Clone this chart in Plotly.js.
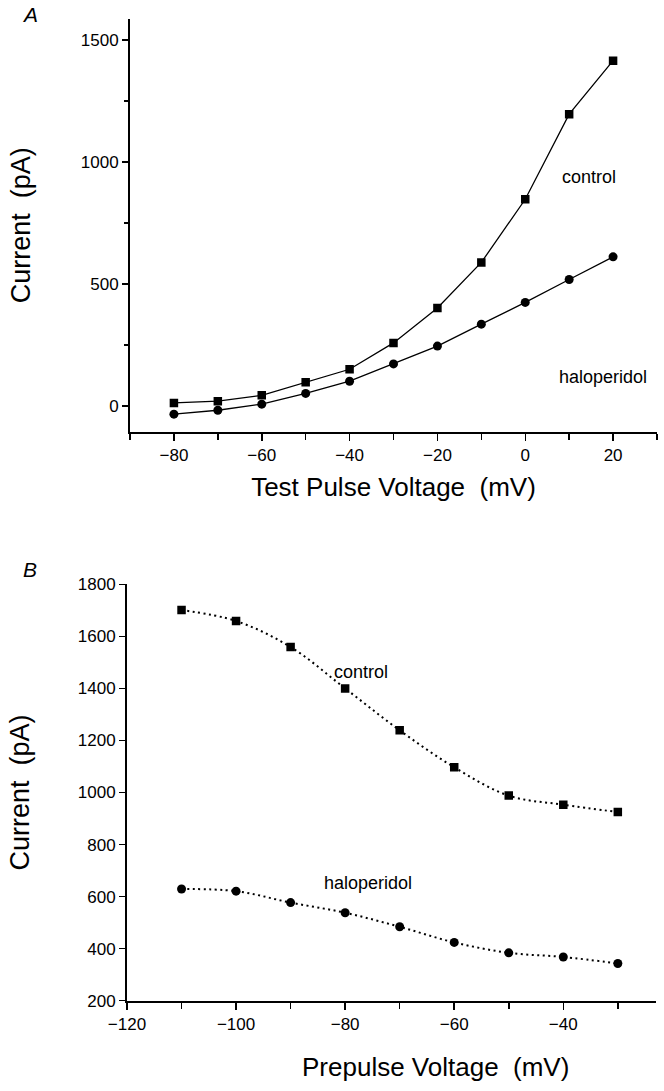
<!DOCTYPE html>
<html>
<head>
<meta charset="utf-8">
<script src="https://cdn.plot.ly/plotly-3.0.1.min.js"></script>
<style>html,body{margin:0;padding:0;background:#fff;}#chart{width:664px;height:1091px;}</style>
</head>
<body>
<div id="chart"></div>
<script>
// Panel A: current vs test pulse voltage
const testVoltage = [-80, -70, -60, -50, -40, -30, -20, -10, 0, 10, 20];
const controlA = [12, 19, 43, 97, 150, 258, 401, 588, 847, 1196, 1415];
const haloA = [-34, -18, 7, 51, 101, 172, 245, 335, 424, 518, 611];

// Panel B: current vs prepulse voltage
const prepulseVoltage = [-110, -100, -90, -80, -70, -60, -50, -40, -30];
const controlB = [1701, 1659, 1559, 1400, 1239, 1097, 988, 953, 925];
const haloB = [629, 621, 577, 538, 484, 424, 384, 368, 343];

const seriesNames = ["control", "haloperidol"];

const FONT = "Liberation Sans, Arial, Helvetica, sans-serif";
const black = "#000";

const traces = [
  {x: testVoltage, y: controlA, name: seriesNames[0], mode: "lines+markers", xaxis: "x", yaxis: "y",
   line: {color: black, width: 1.3}, marker: {symbol: "square", size: 8.5, color: black}},
  {x: testVoltage, y: haloA, name: seriesNames[1], mode: "lines+markers", xaxis: "x", yaxis: "y",
   line: {color: black, width: 1.3}, marker: {symbol: "circle", size: 9, color: black}},
  {x: prepulseVoltage, y: controlB, name: seriesNames[0], mode: "lines+markers", xaxis: "x2", yaxis: "y2",
   line: {color: black, width: 2, dash: "2px,3.5px", shape: "spline"}, marker: {symbol: "square", size: 8.5, color: black}},
  {x: prepulseVoltage, y: haloB, name: seriesNames[1], mode: "lines+markers", xaxis: "x2", yaxis: "y2",
   line: {color: black, width: 2, dash: "2px,3.5px", shape: "spline"}, marker: {symbol: "circle", size: 9, color: black}}
];

const axBase = {
  showline: true, linecolor: black, linewidth: 2, showgrid: false, zeroline: false,
  ticks: "outside", ticklen: 7, tickwidth: 1.5, tickcolor: black,
  tickfont: {family: FONT, size: 17, color: black}, mirror: false
};

const layout = {
  width: 664, height: 1091,
  margin: {l: 0, r: 0, t: 0, b: 0},
  paper_bgcolor: "#fff", plot_bgcolor: "#fff",
  showlegend: false,
  font: {family: FONT, color: black},
  xaxis: Object.assign({}, axBase, {
    domain: [130/664, 657/664], anchor: "y", range: [-90, 30],
    tick0: -80, dtick: 20,
    minor: {dtick: 10, tick0: -90, ticks: "outside", ticklen: 6, tickwidth: 1.5, tickcolor: black, showgrid: false},
    title: {text: "Test Pulse Voltage\u00A0 (mV)", font: {family: FONT, size: 26, color: black}, standoff: 14}
  }),
  yaxis: Object.assign({}, axBase, {
    domain: [1 - 431.7/1091, 1 - 19/1091], anchor: "x", range: [-106, 1586],
    tick0: 0, dtick: 500, ticklen: 6,
    minor: {dtick: 250, tick0: 0, ticks: "outside", ticklen: 4, tickwidth: 1.5, tickcolor: black, showgrid: false},
    title: {text: "Current\u00A0 (pA)", font: {family: FONT, size: 27, color: black}, standoff: 42}
  }),
  xaxis2: Object.assign({}, axBase, {
    domain: [127/664, 656/664], anchor: "y2", range: [-120, -23],
    tick0: -120, dtick: 20,
    minor: {dtick: 10, tick0: -120, ticks: "outside", ticklen: 6, tickwidth: 1.5, tickcolor: black, showgrid: false}
  }),
  yaxis2: Object.assign({}, axBase, {
    domain: [1 - 1000.7/1091, 1 - 584.3/1091], anchor: "x2", range: [200, 1800],
    tick0: 200, dtick: 200, ticklen: 6,
    title: {text: "Current\u00A0 (pA)", font: {family: FONT, size: 27, color: black}, standoff: 40}
  }),
  annotations: [
    {xref: "paper", yref: "paper", x: 30/664, y: 1 - 14/1091, text: "<i>A</i>", showarrow: false,
     font: {family: FONT, size: 21, color: black}, xanchor: "center", yanchor: "middle"},
    {xref: "paper", yref: "paper", x: 30/664, y: 1 - 569/1091, text: "<i>B</i>", showarrow: false,
     font: {family: FONT, size: 21, color: black}, xanchor: "center", yanchor: "middle"},
    {xref: "x", yref: "y", x: 14.6, y: 938, text: seriesNames[0], showarrow: false,
     font: {family: FONT, size: 18, color: black}},
    {xref: "x", yref: "y", x: 17.7, y: 118, text: seriesNames[1], showarrow: false,
     font: {family: FONT, size: 18, color: black}},
    {xref: "x2", yref: "y2", x: -77.1, y: 1464, text: seriesNames[0], showarrow: false,
     font: {family: FONT, size: 18, color: black}},
    {xref: "x2", yref: "y2", x: -75.9, y: 652, text: seriesNames[1], showarrow: false,
     font: {family: FONT, size: 18, color: black}},
    {xref: "paper", yref: "paper", x: 435/664, y: 1 - 1067/1091, text: "Prepulse Voltage\u00A0 (mV)", showarrow: false,
     font: {family: FONT, size: 26, color: black}, xanchor: "center", yanchor: "middle"}
  ]
};

Plotly.newPlot("chart", traces, layout, {staticPlot: true, displayModeBar: false});
</script>
</body>
</html>
